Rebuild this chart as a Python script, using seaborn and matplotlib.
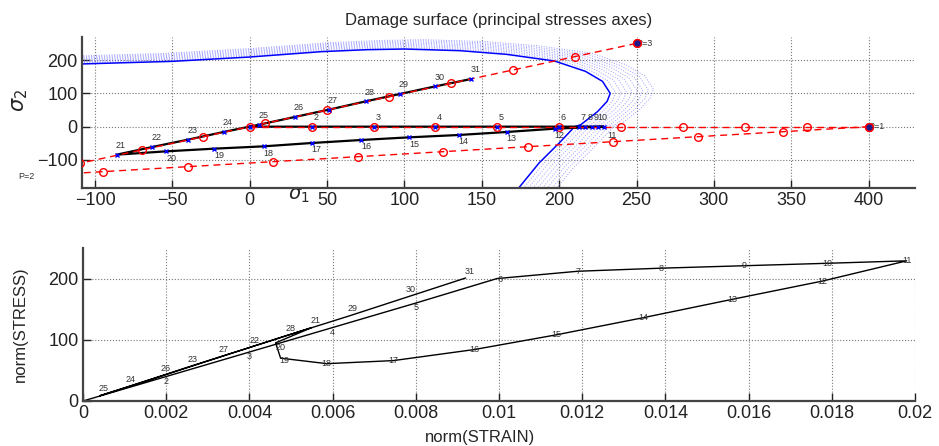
import matplotlib
matplotlib.use('Agg')
import matplotlib.pyplot as plt
import matplotlib.ticker as mticker
import numpy as np
import seaborn as sns

# loading path, points 1..31 in principal stress space
point_ids = list(range(1, 32))
sig1 = [0, 40, 80, 120, 160, 200, 213, 217, 221, 225, 229,
        197, 166, 135, 103, 72, 40, 9, -23, -54, -86,
        -63, -40, -17, 6, 29, 51, 75, 97, 120, 143]
sig2 = [0, 0, 0, 0, 0, 0, 0, 0, 0, 0, 0,
        -6, -16, -25, -32, -40, -49, -59, -66, -74, -84,
        -61, -39, -16, 6, 29, 51, 76, 98, 121, 143]

# same points as norms
strain_norm = [0, 0.002, 0.004, 0.006, 0.008, 0.00995, 0.0119, 0.0139, 0.0159, 0.0179, 0.0198,
               0.01778, 0.0156, 0.01346, 0.01137, 0.0094, 0.00746, 0.00586, 0.00475, 0.00463, 0.0055,
               0.00403, 0.00255, 0.00107, 0.0004, 0.0019, 0.0033, 0.0049, 0.0064, 0.0078, 0.0092]
stress_norm = [0, 40, 80, 120, 160, 200, 212, 217, 221, 225, 229,
               196, 166, 136, 108, 84, 66, 61, 70, 95, 120,
               88, 56, 23, 8.5, 41, 72, 107, 139, 170, 201]

# damage surface
surf_s1 = [174, 187, 200, 210, 214, 225, 231, 233, 228, 217, 197, 166, 136, 100, 76, 46, 0, -50, -110]
surf_s2 = [-183, -109, -49, 0, 6, 46, 76, 100, 136, 166, 197, 217, 228, 233, 231, 225, 209, 196, 188]

# red reference load paths
ray1_s1 = [0, 40, 80, 120, 160, 200, 240, 280, 320, 360, 400]
ray1_s2 = [0, 0, 0, 0, 0, 0, 0, 0, 0, 0, 0]
ray2_s1 = [-150, -110, -70, -30, 10, 50, 90, 130, 170, 210, 250]
ray2_s2 = [-150, -110, -70, -30, 10, 50, 90, 130, 170, 210, 250]
ray3_s1 = [400, 345, 290, 235, 180, 125, 70, 15, -40, -95, -150]
ray3_s2 = [0, -15, -30, -45, -60, -75, -90, -105, -120, -135, -150]

p_names = ['P=1', 'P=2', 'P=3']
p_s1 = [400, -150, 250]
p_s2 = [0, -150, 250]

sns.set_theme(style='white')
plt.rcParams['font.family'] = ['Liberation Sans', 'DejaVu Sans']

fig = plt.figure(figsize=(9.39, 4.46), dpi=100)
ax1 = fig.add_axes([0.0873, 0.5785, 0.8871, 0.3385])
ax2 = fig.add_axes([0.0884, 0.1009, 0.886, 0.3431])

lab_col = '#333333'

# ---- top: principal stresses
for f in np.linspace(1.015, 1.12, 8):
    ax1.plot(np.array(surf_s1) * f, np.array(surf_s2) * f, ls=':', lw=0.7,
             color='#7a7aff', alpha=0.75, zorder=1)
sns.lineplot(x=surf_s1, y=surf_s2, sort=False, estimator=None, color='blue', lw=1.1, ax=ax1, zorder=2)

for xs, ys in [(ray1_s1, ray1_s2), (ray2_s1, ray2_s2), (ray3_s1, ray3_s2)]:
    sns.lineplot(x=xs, y=ys, sort=False, estimator=None, color='red', lw=1, ax=ax1,
                 linestyle=(0, (5, 3.5)), marker='o', markersize=5.5,
                 markerfacecolor='none', markeredgecolor='red', markeredgewidth=1, zorder=4)

sns.lineplot(x=sig1, y=sig2, sort=False, estimator=None, color='black', lw=1.6, ax=ax1, zorder=3)
sns.lineplot(x=sig1, y=sig2, sort=False, estimator=None, color='blue', lw=0, ax=ax1,
             marker='x', markersize=3.5, markeredgecolor='blue', markeredgewidth=1, zorder=5)

for name, x, y in zip(p_names, p_s1, p_s2):
    ax1.plot(x, y, 'o', ms=5.5, mfc='#1a1a8c', mec='red', mew=1, zorder=6, clip_on=True)
    ax1.text(x, y, name, fontsize=6.5, color=lab_col, ha='left', va='center', clip_on=False)

for i, x, y in zip(point_ids, sig1, sig2):
    if i == 1:
        continue
    if i == 11:
        off = (6, -6.5)
    elif 12 <= i <= 20:
        off = (3.5, -5)
    else:
        off = (3, 6.5)
    ax1.annotate(str(i), (x, y), xytext=off, textcoords='offset points',
                 ha='center', va='center', fontsize=6.5, color=lab_col)

ax1.set_xlim(-108.5, 430)
ax1.set_ylim(-184, 269)
ax1.set_xticks(range(-100, 401, 50))
ax1.set_yticks([-100, 0, 100, 200])
ax1.set_title('Damage surface (principal stresses axes)', fontsize=12, pad=9)
ax1.set_xlabel(r'$\sigma_1$', fontsize=14, labelpad=0)
ax1.xaxis.set_label_coords(0.26, 0.01)
ax1.xaxis.label.set_va('top')
ax1.set_ylabel(r'$\sigma_2$', fontsize=15)
ax1.yaxis.set_label_coords(-0.062, 0.58)

# ---- bottom: norms
sns.lineplot(x=strain_norm, y=stress_norm, sort=False, estimator=None, color='black', lw=1, ax=ax2)
for i, x, y in zip(point_ids, strain_norm, stress_norm):
    if i == 1:
        continue
    if i <= 5:
        off = (0, -3.5)
    elif i == 6:
        off = (2, -1)
    elif i <= 18:
        off = (0, 0)
    elif i == 19:
        off = (3, -1.5)
    elif i == 20:
        off = (3.5, -3)
    else:
        off = (2.5, 5)
    ax2.annotate(str(i), (x, y), xytext=off, textcoords='offset points',
                 ha='center', va='center', fontsize=6.5, color=lab_col)

ax2.set_xlim(0, 0.02)
ax2.set_ylim(0, 250)
ax2.set_xticks(np.arange(0, 0.0201, 0.002))
ax2.set_yticks([0, 100, 200])
ax2.xaxis.set_major_formatter(mticker.FuncFormatter(lambda v, p: '%g' % round(v, 4)))
ax2.set_xlabel('norm(STRAIN)', fontsize=12, labelpad=0)
ax2.xaxis.set_label_coords(0.477, -0.19)
ax2.set_ylabel('norm(STRESS)', fontsize=12)
ax2.yaxis.set_label_coords(-0.066, 0.5)

for ax in (ax1, ax2):
    ax.grid(True, linestyle=':', color='#777777', linewidth=0.8)
    ax.set_axisbelow(True)
    for s in ('top', 'right'):
        ax.spines[s].set_visible(False)
    for s in ('left', 'bottom'):
        ax.spines[s].set_color('#444444')
        ax.spines[s].set_linewidth(1.6)
    ax.tick_params(direction='in', length=6, width=1, labelsize=13,
                   bottom=True, left=True, colors='#222222', pad=3)
    ax.set_facecolor('white')

plt.savefig('out.png', dpi=100)
